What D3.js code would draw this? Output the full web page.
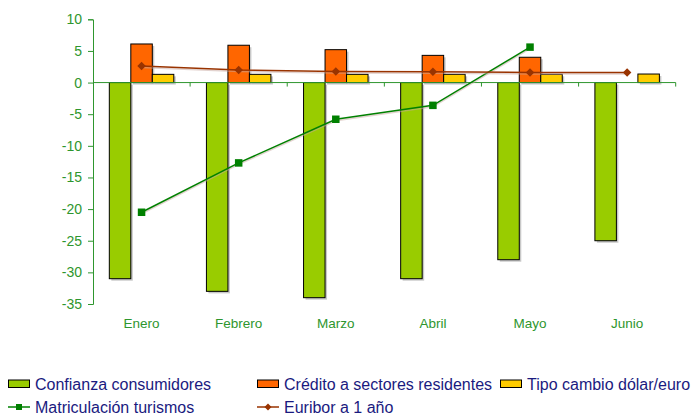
<!DOCTYPE html>
<html>
<head>
<meta charset="utf-8">
<script src="https://cdn.jsdelivr.net/npm/d3@7"></script>
<style>
  html, body { margin: 0; padding: 0; background: #fff; }
  svg { display: block; font-family: "Liberation Sans", Arial, sans-serif; }
</style>
</head>
<body>
<svg id="chart" width="696" height="416"></svg>
<script>
// Monthly indicators, January to June
const months = ["Enero", "Febrero", "Marzo", "Abril", "Mayo", "Junio"];
const confianza = [-31, -33, -34, -31, -28, -25];
const credito = [6.1, 5.9, 5.2, 4.3, 4.0, null];
const tipoCambio = [1.3, 1.3, 1.3, 1.3, 1.3, 1.35];
const matriculacion = [-20.5, -12.7, -5.8, -3.6, 5.6, null];
const euribor = [2.6, 2.0, 1.75, 1.7, 1.6, 1.6];
const yTicks = [10, 5, 0, -5, -10, -15, -20, -25, -30, -35];

const barSeries = [
  { name: "Confianza consumidores", values: confianza, color: "#99CC00" },
  { name: "Crédito a sectores residentes", values: credito, color: "#FF6600" },
  { name: "Tipo cambio dólar/euro", values: tipoCambio, color: "#FFCC00" }
];
const lineSeries = [
  { name: "Matriculación turismos", values: matriculacion, color: "#008000", marker: "square" },
  { name: "Euribor a 1 año", values: euribor, color: "#993300", marker: "diamond" }
];

const axisColor = "#2E962E";
const textColor = "#2E962E";
const legendColor = "#1A1A80";

const svg = d3.select("#chart");

const x = d3.scaleBand().domain(months).range([93, 675.7]).padding(0);
const bw = x.bandwidth();
const xs = d3.scaleBand()
  .domain(barSeries.map(s => s.name))
  .range([bw * 0.168, bw * 0.832]);
const y = d3.scaleLinear().domain([-35, 10]).range([304, 19.3]);

// Bars with a soft drop shadow
const barG = svg.append("g");
barSeries.forEach(s => {
  const data = s.values.map((v, i) => ({ v, m: months[i] })).filter(d => d.v != null);
  const rx = d => x(d.m) + xs(s.name);
  const ry = d => y(Math.max(0, d.v));
  const rh = d => Math.abs(y(d.v) - y(0));
  barG.selectAll(null).data(data).enter().append("rect")
    .attr("x", d => rx(d) + 2).attr("y", d => ry(d) + 2)
    .attr("width", xs.bandwidth()).attr("height", rh)
    .attr("fill", "#9a9a9a").attr("opacity", 0.55);
  barG.selectAll(null).data(data).enter().append("rect")
    .attr("x", rx).attr("y", ry)
    .attr("width", xs.bandwidth()).attr("height", rh)
    .attr("fill", s.color).attr("stroke", "#000").attr("stroke-width", 1);
});

// Y axis (plain hyphen for negatives)
const yAxis = d3.axisLeft(y).tickValues(yTicks).tickFormat(d => String(d))
  .tickSize(5).tickPadding(6);
const yg = svg.append("g").attr("transform", "translate(93,0)").call(yAxis);
yg.select(".domain").attr("stroke", axisColor);
yg.selectAll(".tick line").attr("stroke", axisColor);
yg.selectAll(".tick text").attr("fill", textColor).attr("font-size", 14)
  .attr("font-family", "'Liberation Sans', Arial, sans-serif");

// Zero line with ticks at category boundaries
const zg = svg.append("g");
zg.append("line").attr("x1", 93).attr("x2", 675.7)
  .attr("y1", y(0)).attr("y2", y(0)).attr("stroke", axisColor);
const bounds = months.map(m => x(m) + bw);
zg.selectAll(null).data(bounds).enter().append("line")
  .attr("x1", d => d).attr("x2", d => d)
  .attr("y1", y(0)).attr("y2", y(0) + 4).attr("stroke", axisColor);

// Category labels
svg.append("g").selectAll("text").data(months).enter().append("text")
  .attr("x", d => x(d) + bw / 2).attr("y", 328)
  .attr("text-anchor", "middle").attr("font-size", 13.5).attr("fill", textColor)
  .text(d => d);

// Lines and markers
function drawMarker(g, type, cx, cy, color, size) {
  if (type === "square") {
    g.append("rect").attr("x", cx - size / 2).attr("y", cy - size / 2)
      .attr("width", size).attr("height", size).attr("fill", color);
  } else {
    const r = size / 2 + 0.5;
    g.append("path")
      .attr("d", `M${cx},${cy - r}L${cx + r},${cy}L${cx},${cy + r}L${cx - r},${cy}Z`)
      .attr("fill", color);
  }
}

const lineG = svg.append("g");
lineSeries.forEach(s => {
  const data = s.values.map((v, i) => ({ v, m: months[i] })).filter(d => d.v != null);
  const line = d3.line().x(d => x(d.m) + bw / 2).y(d => y(d.v));
  lineG.append("path").datum(data)
    .attr("d", line).attr("transform", "translate(0,1.5)")
    .attr("fill", "none").attr("stroke", "#c8a8a0").attr("stroke-width", 1.5).attr("opacity", 0.5);
  lineG.append("path").datum(data)
    .attr("d", line).attr("fill", "none").attr("stroke", s.color).attr("stroke-width", 1.5);
  data.forEach(d => drawMarker(lineG, s.marker, x(d.m) + bw / 2, y(d.v), s.color, 7.5));
});

// Legend
const lg = svg.append("g").attr("font-size", 16).attr("fill", legendColor);
const legendItems = [
  { s: barSeries[0], kind: "bar", x: 8, y: 383.5 },
  { s: barSeries[1], kind: "bar", x: 257, y: 383.5 },
  { s: barSeries[2], kind: "bar", x: 500, y: 383.5 },
  { s: lineSeries[0], kind: "line", x: 8, y: 407 },
  { s: lineSeries[1], kind: "line", x: 257, y: 407 }
];
legendItems.forEach(it => {
  if (it.kind === "bar") {
    lg.append("rect").attr("x", it.x + 0.5).attr("y", it.y - 3.5)
      .attr("width", 21).attr("height", 7.5)
      .attr("fill", it.s.color).attr("stroke", "#000").attr("stroke-width", 1);
  } else {
    lg.append("line").attr("x1", it.x).attr("x2", it.x + 22)
      .attr("y1", it.y).attr("y2", it.y).attr("stroke", it.s.color).attr("stroke-width", 1.5);
    drawMarker(lg, it.s.marker, it.x + 11, it.y, it.s.color, 6);
  }
  lg.append("text").attr("x", it.x + 27).attr("y", it.y + 6).text(it.s.name);
});
</script>
</body>
</html>
